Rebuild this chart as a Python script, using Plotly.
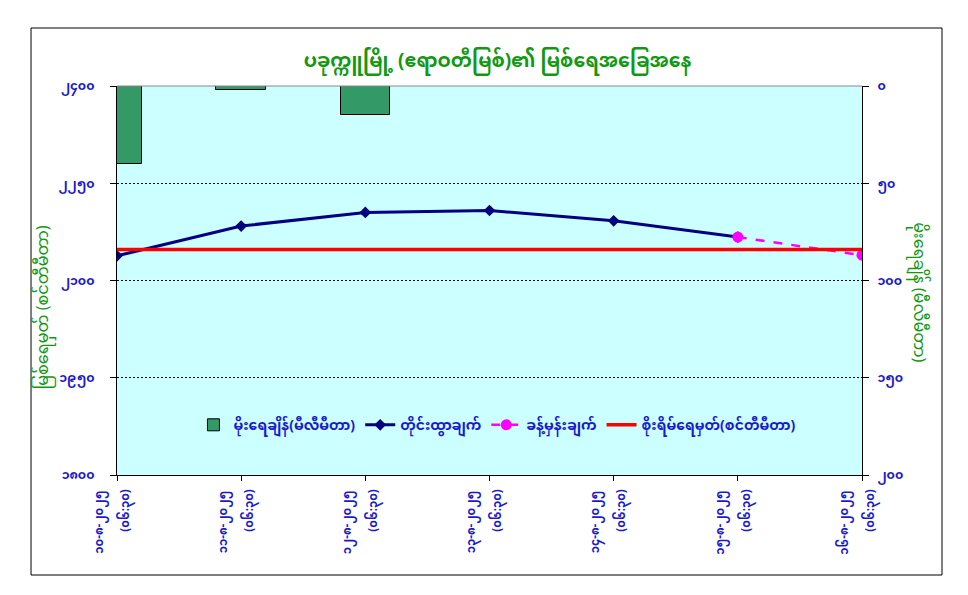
import plotly.graph_objects as go

# readings at 06:30 each morning
dates = ["၁၀-၈-၂၀၂၅", "၁၁-၈-၂၀၂၅", "၁၂-၈-၂၀၂၅", "၁၃-၈-၂၀၂၅",
         "၁၄-၈-၂၀၂၅", "၁၅-၈-၂၀၂၅", "၁၆-၈-၂၀၂၅"]
time_label = "(၀၆:၃၀)"
rainfall = [40, 2, 15, 0, 0, 0, 0]
water_level = [2138, 2184, 2205, 2208, 2192, 2167]
forecast = [None, None, None, None, None, 2167, 2139]
danger_level = [2148, 2148, 2148, 2148, 2148, 2148, 2148]

level_ticks = [1800, 1950, 2100, 2250, 2400]
level_labels = ["၁၈၀၀", "၁၉၅၀", "၂၁၀၀", "၂၂၅၀", "၂၄၀၀"]
rain_ticks = [0, 50, 100, 150, 200]
rain_labels = ["၀", "၅၀", "၁၀၀", "၁၅၀", "၂၀၀"]

title_text = "ပခုက္ကူမြို့ (ဧရာဝတီမြစ်)၏ မြစ်ရေအခြေအနေ"
names = ["မိုးရေချိန်(မီလီမီတာ)", "တိုင်းထွာချက်", "ခန့်မှန်းချက်", "စိုးရိမ်ရေမှတ်(စင်တီမီတာ)"]

FONT = "Noto Sans Myanmar, Padauk, Myanmar Text, Noto Sans, DejaVu Sans"
BLUE = "#1a1acc"
GREEN = "#119911"

x = list(range(len(dates)))

fig = go.Figure()
fig.add_trace(go.Bar(x=x, y=rainfall, yaxis="y2", name=names[0], width=0.4,
                     marker=dict(color="#339966", line=dict(color="black", width=1))))
fig.add_trace(go.Scatter(x=x[:len(water_level)], y=water_level, name=names[1],
                         mode="lines+markers",
                         line=dict(color="#000080", width=3),
                         marker=dict(symbol="diamond", size=9, color="#000080")))
fig.add_trace(go.Scatter(x=x, y=forecast, name=names[2], mode="lines+markers",
                         line=dict(color="#ff00ff", width=2.5, dash="dash"),
                         marker=dict(symbol="circle", size=11, color="#ff00ff")))
# danger line sits on x2 so the second row of x labels (time) can be placed on its own
fig.add_trace(go.Scatter(x=x, y=danger_level, name=names[3], mode="lines", xaxis="x2",
                         line=dict(color="#ff0000", width=3.5)))

tick_font = dict(size=11.5, color=BLUE, weight="bold")

fig.update_layout(
    width=960, height=587,
    margin=dict(l=109, r=106, t=78, b=120),
    paper_bgcolor="white", plot_bgcolor="#ccffff",
    font=dict(family=FONT, size=13, color=BLUE),
    title=dict(text="<b>" + title_text + "</b>", x=0.510, y=0.911,
               xanchor="center", yanchor="middle",
               font=dict(size=19, color=GREEN)),
    showlegend=True,
    legend=dict(orientation="h", x=0.51, y=0.128, xanchor="center", yanchor="middle",
                bgcolor="rgba(0,0,0,0)", font=dict(size=14, color=BLUE, weight="bold"),
                traceorder="normal", tracegroupgap=0),
    bargap=0,
    xaxis=dict(range=[0, 6], tickvals=x, ticktext=dates, tickangle=-90,
               showgrid=False, zeroline=False, showline=True, linecolor="black",
               ticks="outside", ticklen=5, tickcolor="black",
               ticklabelshift=-18, ticklabelstandoff=5, tickfont=tick_font),
    xaxis2=dict(range=[0, 6], overlaying="x", side="bottom", tickvals=x,
                ticktext=[time_label] * len(x), tickangle=-90,
                showgrid=False, zeroline=False, showline=False, ticks="",
                ticklabelshift=8, ticklabelstandoff=11, tickfont=tick_font),
    yaxis=dict(range=[1800, 2400], tickvals=level_ticks, ticktext=level_labels,
               showgrid=True, gridcolor="black", griddash="2px,2px", gridwidth=0.7,
               zeroline=False, showline=True, linecolor="black",
               ticks="outside", ticklen=6, tickcolor="black", ticklabelstandoff=13,
               tickfont=dict(size=12.5, color=BLUE, weight="bold")),
    yaxis2=dict(range=[200, 0], tickvals=rain_ticks, ticktext=rain_labels,
                overlaying="y", side="right", showgrid=False, zeroline=False,
                showline=True, linecolor="black",
                ticks="outside", ticklen=6, tickcolor="black", ticklabelstandoff=6,
                tickfont=dict(size=12.5, color=BLUE, weight="bold")),
)

# axis titles (right one reads top to bottom like the original)
fig.add_annotation(text="မြစ်ရေမှတ် (စင်တီမီတာ)", xref="paper", yref="paper",
                   x=-0.097, y=0.43, textangle=-90, showarrow=False,
                   xanchor="center", yanchor="middle",
                   font=dict(size=16, color=GREEN))
fig.add_annotation(text="မိုးရေချိန် (မီလီမီတာ)", xref="paper", yref="paper",
                   x=1.075, y=0.47, textangle=90, showarrow=False,
                   xanchor="center", yanchor="middle",
                   font=dict(size=16, color=GREEN))

# top edge of the plot area and the outer frame
fig.add_shape(type="line", xref="paper", yref="paper", x0=0, x1=1, y0=1, y1=1,
              line=dict(color="#888888", width=1))
fig.add_shape(type="rect", xref="paper", yref="paper",
              x0=-0.1154, x1=1.1074, y0=-0.2571, y1=1.1491,
              line=dict(color="black", width=1))

fig.write_html("out.html")
